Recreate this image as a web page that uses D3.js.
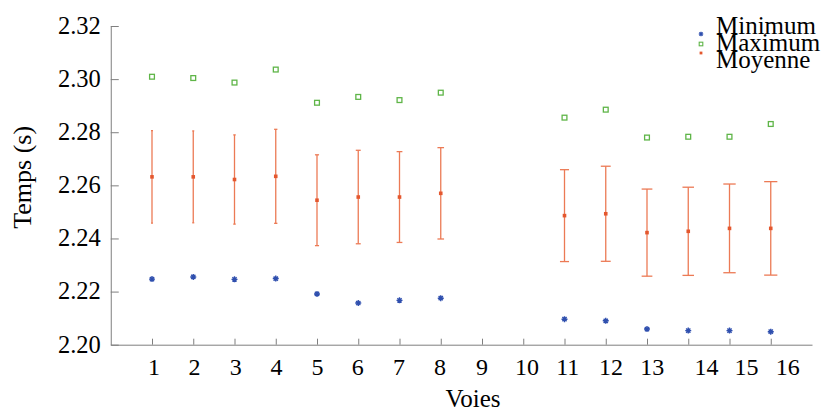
<!DOCTYPE html>
<html>
<head>
<meta charset="utf-8">
<script src="https://cdn.jsdelivr.net/npm/d3@7"></script>
</head>
<body style="margin:0;padding:0;background:#fff">
<svg id="chart" width="827" height="410" style="display:block"></svg>
<script>
// ---- data ----
const voies = [1, 2, 3, 4, 5, 6, 7, 8, 9, 10, 11, 12, 13, 14, 15, 16];
const minimum = [2.2247, 2.2255, 2.2246, 2.2249, 2.2191, 2.2157, 2.2167, 2.2175, null, null, 2.2096, 2.2090, 2.2059, 2.2053, 2.2053, 2.2049];
const maximum = [2.3009, 2.3004, 2.2987, 2.3036, 2.2911, 2.2933, 2.2921, 2.2949, null, null, 2.2855, 2.2885, 2.2780, 2.2783, 2.2783, 2.2831];
const moyenne = [2.2632, 2.2632, 2.2622, 2.2634, 2.2544, 2.2556, 2.2556, 2.2570, null, null, 2.2486, 2.2493, 2.2422, 2.2427, 2.2438, 2.2438];
const ecartType = [0.0174, 0.0173, 0.0168, 0.0177, 0.0171, 0.0176, 0.0171, 0.0172, null, null, 0.0173, 0.0179, 0.0164, 0.0166, 0.0167, 0.0176];
const yTicks = [2.20, 2.22, 2.24, 2.26, 2.28, 2.30, 2.32];
const xTickLabels = ["1", "2", "3", "4", "5", "6", "7", "8", "9", "10", "11", "12", "13", "14", "15", "16"];
// where each voie label sits, in axis units (the original labels are not exactly under their ticks)
const xLabelSlots = [1.05, 2.03, 3.03, 4.02, 5.01, 5.99, 6.99, 7.98, 9.0, 10.09, 11.08, 12.13, 13.13, 14.44, 15.41, 16.41];
const seriesNames = ["Minimum", "Maximum", "Moyenne"];

// ---- layout ----
const serif = "Liberation Serif";
const svg = d3.select("#chart");
const x = d3.scaleLinear().domain([0, 17]).range([110.75, 812]);
const y = d3.scaleLinear().domain([2.20, 2.32]).range([344.7, 26]);

const axisColor = "#7f7f7f";
const minColor = "#2f4fae";
const maxColor = "#5fb548";
const meanColor = "#e4572e";
const barColor = "#ec7a55";

// y axis (ticks inward)
const yAxis = svg.append("g").attr("transform", `translate(${x(0)},0)`)
  .call(d3.axisRight(y).tickValues(yTicks).tickSize(8).tickSizeOuter(0).tickFormat(d3.format(".2f")));
yAxis.attr("font-family", serif);
yAxis.select(".domain").attr("stroke", axisColor);
yAxis.selectAll(".tick line").attr("stroke", axisColor);
yAxis.selectAll(".tick text")
  .attr("x", -10).attr("dy", "0.3em").attr("text-anchor", "end")
  .style("font-family", serif).style("font-size", "24.5px").style("fill", "#000");

// x axis (ticks inward)
const xAxis = svg.append("g").attr("transform", `translate(0,${y(2.20)})`)
  .call(d3.axisTop(x).tickValues(voies).tickSize(6).tickSizeOuter(0).tickFormat(""));
xAxis.select(".domain").attr("stroke", axisColor);
xAxis.selectAll(".tick line").attr("stroke", axisColor);

// x tick labels
svg.append("g").selectAll("text").data(xTickLabels).join("text")
  .attr("x", (d, i) => x(xLabelSlots[i]))
  .attr("y", y(2.20) + 30.5)
  .attr("text-anchor", "middle")
  .style("font-family", serif).style("font-size", "24px")
  .text(d => d);

// axis titles
svg.append("text").attr("x", 473).attr("y", 406.5).attr("text-anchor", "middle")
  .style("font-family", serif).style("font-size", "25px").text("Voies");
svg.append("text").attr("transform", `translate(31,${(y(2.20) + y(2.32)) / 2 - 8}) rotate(-90)`)
  .attr("text-anchor", "middle").style("font-family", serif).style("font-size", "26px").text("Temps (s)");

const idx = voies.map((v, i) => i);

// error bars
const eb = svg.append("g");
const valid = idx.filter(i => moyenne[i] != null);
eb.selectAll("line.v").data(valid).join("line").attr("class", "v")
  .attr("x1", i => x(voies[i])).attr("x2", i => x(voies[i]))
  .attr("y1", i => y(moyenne[i] + ecartType[i])).attr("y2", i => y(moyenne[i] - ecartType[i]))
  .attr("stroke", barColor).attr("stroke-width", 1.3);
const capHalf = i => Math.max(1, x(voies[i] * 1.01) - x(voies[i]));
[1, -1].forEach(s => {
  eb.selectAll(null).data(valid).join("line")
    .attr("x1", i => x(voies[i]) - capHalf(i)).attr("x2", i => x(voies[i]) + capHalf(i))
    .attr("y1", i => y(moyenne[i] + s * ecartType[i])).attr("y2", i => y(moyenne[i] + s * ecartType[i]))
    .attr("stroke", barColor).attr("stroke-width", 1.3);
});

// mean markers
svg.append("g").selectAll("rect").data(valid).join("rect")
  .attr("x", i => x(voies[i]) - 1.8).attr("y", i => y(moyenne[i]) - 1.8)
  .attr("width", 3.6).attr("height", 3.6).attr("fill", meanColor);

// max markers (hollow squares)
const vmax = idx.filter(i => maximum[i] != null);
svg.append("g").selectAll("rect").data(vmax).join("rect")
  .attr("x", i => x(voies[i]) - 2.4).attr("y", i => y(maximum[i]) - 2.4)
  .attr("width", 4.8).attr("height", 4.8).attr("fill", "none")
  .attr("stroke", maxColor).attr("stroke-width", 1.3);

// min markers (asterisks)
function asterisk(r) {
  const d = r * Math.SQRT1_2;
  return `M${-r},0L${r},0M0,${-r}L0,${r}M${-d},${-d}L${d},${d}M${-d},${d}L${d},${-d}`;
}
const vmin = idx.filter(i => minimum[i] != null);
svg.append("g").selectAll("path").data(vmin).join("path")
  .attr("transform", i => `translate(${x(voies[i])},${y(minimum[i])})`)
  .attr("d", asterisk(3)).attr("stroke", minColor).attr("stroke-width", 1.4).attr("fill", "none");

// legend
const lg = svg.append("g");
const lx = 701;
lg.append("path").attr("transform", `translate(${lx},34)`).attr("d", asterisk(2.3))
  .attr("stroke", minColor).attr("stroke-width", 1.2).attr("fill", "none");
lg.append("rect").attr("x", lx - 1.8).attr("y", 44 - 1.8).attr("width", 3.6).attr("height", 3.6)
  .attr("fill", "none").attr("stroke", maxColor).attr("stroke-width", 1.1);
lg.append("rect").attr("x", lx - 1.4).attr("y", 53 - 1.4).attr("width", 2.8).attr("height", 2.8)
  .attr("fill", meanColor);
lg.selectAll("text").data(seriesNames).join("text")
  .attr("x", 716).attr("y", (d, i) => [33.5, 51, 67.5][i])
  .style("font-family", serif).style("font-size", "25px").text(d => d);
</script>
</body>
</html>
